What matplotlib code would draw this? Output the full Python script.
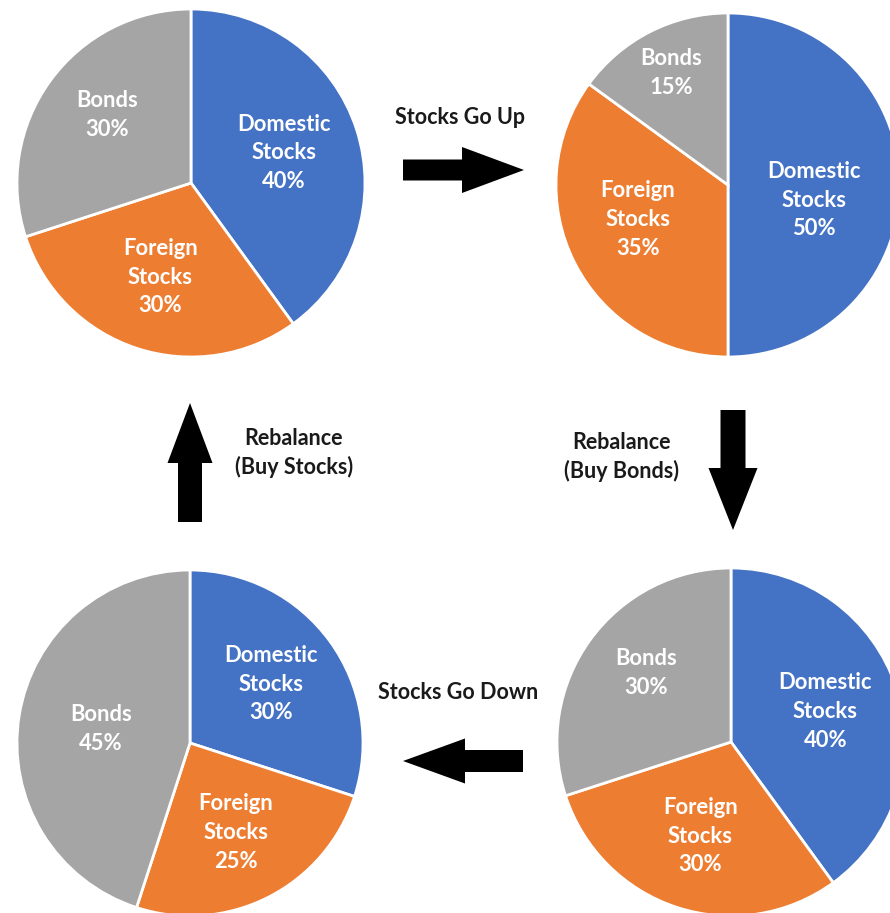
import numpy as np
import matplotlib
matplotlib.use('Agg')
import matplotlib.pyplot as plt
from matplotlib.patches import FancyArrow

W, H = 890, 913

# data
names = ['Domestic\nStocks', 'Foreign\nStocks', 'Bonds']
start_mix = [40, 30, 30]
after_up = [50, 35, 15]
rebalanced = [40, 30, 30]
after_down = [30, 25, 45]

colors = ['#4472C4', '#ED7D31', '#A5A5A5']

# layout (pixel coords from top-left): center, radius, label (dist, angle tweak)
pies = [
    (start_mix,  (191, 183), 174, [(0.56, 0), (0.57, 0), (0.62, -3)]),
    (after_up,   (728, 185), 172, [(0.51, -10), (0.56, -6), (0.73, 0)]),
    (after_down, (190, 743), 173, [(0.58, 0), (0.58, 0), (0.52, 0)]),
    (rebalanced, (731, 742), 174, [(0.57, 0), (0.57, 0), (0.63, -3)]),
]

fig = plt.figure(figsize=(W / 100, H / 100), dpi=100)
ax = fig.add_axes([0, 0, 1, 1])

lab_font = dict(family=['Lato', 'DejaVu Sans'], size=15.8, weight='bold')

for vals, (cx, cy), r, lab in pies:
    wedges, _ = ax.pie(vals, center=(cx, H - cy), radius=r, startangle=90,
                       counterclock=False, colors=colors,
                       wedgeprops=dict(edgecolor='white', linewidth=2))
    for w, name, v, (d, dt) in zip(wedges, names, vals, lab):
        mid = np.deg2rad((w.theta1 + w.theta2) / 2 + dt)
        x = cx + d * r * np.cos(mid)
        y = H - cy + d * r * np.sin(mid)
        ax.text(x, y, f'{name}\n{v}%', ha='center', va='center',
                color='white', linespacing=1.45, **lab_font)

# arrows: tail x, tail y, dx, dy, shaft width, head width, head length
arrows = [
    (403, 170, 121, 0, 21, 46, 62),
    (190, 522, 0, -119, 24, 45, 60),
    (733, 410, 0, 120, 25, 49, 62),
    (523, 761, -120, 0, 22, 45, 62),
]
for x, y, dx, dy, sw, hw, hl in arrows:
    ax.add_patch(FancyArrow(x, H - y, dx, -dy, width=sw, head_width=hw,
                            head_length=hl, length_includes_head=True,
                            color='black', lw=0))

txt_font = dict(family=['Lato', 'DejaVu Sans'], size=15.5, weight='bold',
                color='#1a1a1a', ha='center', va='center')
ax.text(460, H - 117, 'Stocks Go Up', **txt_font)
ax.text(458, H - 692, 'Stocks Go Down', **txt_font)
ax.text(294, H - 453, 'Rebalance\n(Buy Stocks)', linespacing=1.35, **txt_font)
ax.text(622, H - 457, 'Rebalance\n(Buy Bonds)', linespacing=1.35, **txt_font)

ax.set_xlim(0, W)
ax.set_ylim(0, H)
ax.set_aspect('equal')
ax.axis('off')

fig.savefig('out.png', dpi=100, facecolor='white')
